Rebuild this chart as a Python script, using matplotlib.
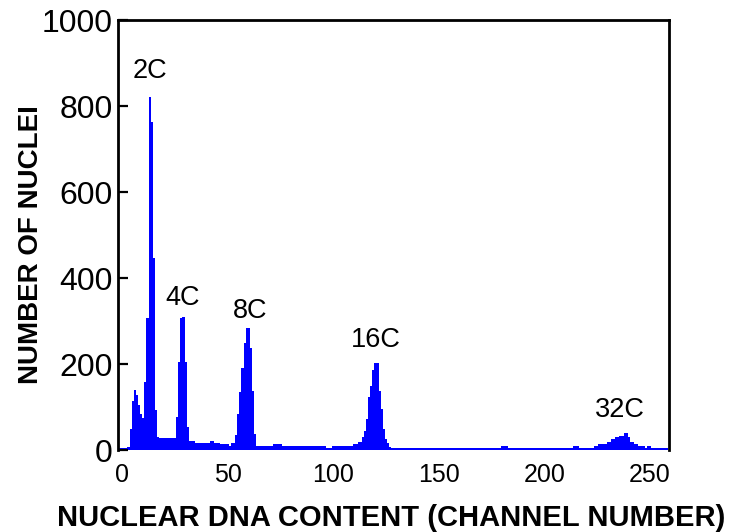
import numpy as np
import matplotlib
matplotlib.use("Agg")
import matplotlib.pyplot as plt

# DNA content histogram, one count per channel, starting at channel -2
first_channel = -2
counts = [
    4, 4, 4, 4, 4, 8, 48, 115, 140, 129,              # -2..7
    105, 84, 75, 158, 308, 820, 762, 446, 92, 30,     # 8..17
    28, 28, 28, 28, 28, 28, 28, 28, 76, 204,          # 18..27
    308, 309, 204, 53, 20, 20, 20, 17, 17, 17,        # 28..37
    17, 17, 17, 17, 22, 22, 17, 17, 17, 13,           # 38..47
    13, 13, 13, 9, 16, 16, 34, 84, 134, 191,          # 48..57
    249, 283, 283, 238, 138, 38, 9, 9, 9, 9,          # 58..67
    9, 9, 9, 9, 13, 14, 14, 14, 10, 10,               # 68..77
    10, 10, 10, 10, 10, 10, 10, 10, 10, 10,           # 78..87
    10, 10, 10, 10, 10, 10, 10, 10, 10, 5,            # 88..97
    5, 5, 10, 10, 10, 10, 10, 10, 10, 10,             # 98..107
    10, 10, 13, 15, 18, 18, 30, 45, 72, 123,          # 108..117
    150, 186, 202, 202, 138, 96, 50, 25, 16, 8,       # 118..127
    5, 5, 5, 5, 5, 5, 5, 5, 5, 5,                     # 128..137
    5, 5, 5, 4, 4, 4, 4, 4, 4, 4,                     # 138..147
    4, 4, 4, 4, 4, 4, 4, 4, 4, 4,                     # 148..157
    4, 4, 4, 4, 4, 4, 4, 4, 4, 4,                     # 158..167
    4, 4, 4, 4, 4, 4, 4, 4, 4, 4,                     # 168..177
    4, 4, 9, 9, 9, 4, 4, 4, 4, 4,                     # 178..187
    4, 4, 4, 4, 4, 4, 4, 4, 4, 4,                     # 188..197
    4, 4, 4, 4, 4, 4, 4, 4, 4, 4,                     # 198..207
    4, 4, 4, 4, 4, 4, 9, 9, 9, 4,                     # 208..217
    4, 4, 4, 4, 4, 4, 9, 9, 13, 13,                   # 218..227
    13, 13, 18, 18, 26, 26, 30, 30, 32, 32,           # 228..237
    39, 39, 30, 18, 18, 13, 13, 9, 9, 9,              # 238..247
    4, 9, 9, 4, 4, 4, 4, 4, 4, 4,                     # 248..257
    4,                                                # 258
]

# ploidy peak labels and where they sit
peak_labels = ["2C", "4C", "8C", "16C", "32C"]
label_x = [13.3, 28.4, 60.6, 120.3, 235.8]
label_y = [881, 353, 323, 256, 92]

x_ticks = [0, 50, 100, 150, 200, 250]
y_ticks = [0, 200, 400, 600, 800, 1000]

fonts = ["Liberation Sans", "DejaVu Sans"]

fig = plt.figure(figsize=(7.33, 5.32), dpi=100)
ax = fig.add_axes([0.161, 0.1541, 0.7517, 0.8083])

channels = np.arange(len(counts)) + first_channel
ax.bar(channels, counts, width=1.06, color="#0000ff", linewidth=0)

ax.set_xlim(-2, 259)
ax.set_ylim(0, 1000)

for side in ("left", "top", "right"):
    ax.spines[side].set_linewidth(2.0)
    ax.spines[side].set_color("black")
    ax.spines[side].set_zorder(3)
ax.spines["bottom"].set_visible(False)

ax.set_xticks(x_ticks)
ax.set_yticks(y_ticks)
ax.set_xticklabels([str(t) for t in x_ticks], family=fonts, fontsize=18)
ax.set_yticklabels([str(t) for t in y_ticks], family=fonts, fontsize=23)
ax.tick_params(axis="y", direction="in", length=7, width=1.6, pad=4)
ax.tick_params(axis="x", length=0, pad=9)

ax.set_xlabel("NUCLEAR DNA CONTENT (CHANNEL NUMBER)", family=fonts,
              fontweight="bold", fontsize=21)
ax.set_ylabel("NUMBER OF NUCLEI", family=fonts, fontweight="bold",
              fontsize=20)
ax.xaxis.set_label_coords(0.496, -0.125)
ax.yaxis.set_label_coords(-0.134, 0.477)

for text, x, y in zip(peak_labels, label_x, label_y):
    ax.text(x, y, text, family=fonts, fontsize=19.5, ha="center", va="center")

fig.savefig("out.png", dpi=100)
